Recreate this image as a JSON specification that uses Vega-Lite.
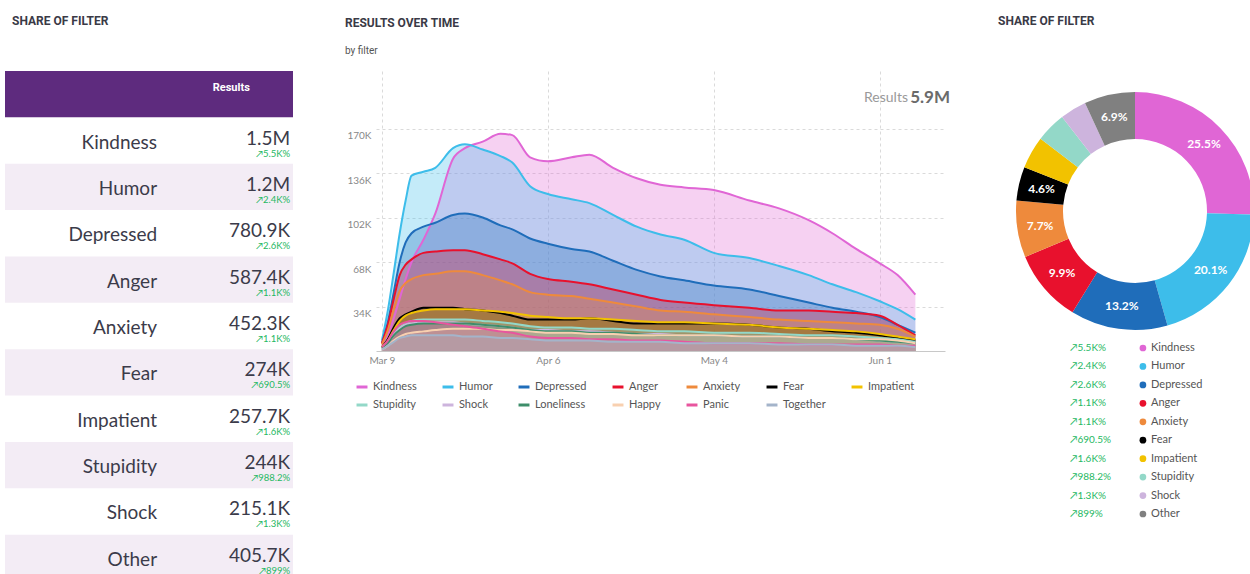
{
  "$schema": "https://vega.github.io/schema/vega-lite/v6.json",
  "background": "white",
  "padding": {"left": 5, "top": 14, "right": 5, "bottom": 0},
  "autosize": {"type": "pad"},
  "bounds": "flush",
  "spacing": 83,
  "config": {
    "view": {"stroke": null},
    "font": "Lato",
    "title": {"font": "Roboto", "fontSize": 12, "fontWeight": "bold", "color": "#3a3a46", "anchor": "start"}
  },
  "resolve": {"scale": {"color": "independent", "x": "independent", "y": "independent"}},
  "datasets": {
    "filters": [
      {"name": "Kindness", "results": "1.5M", "change": "↗5.5K%", "pct": 25.5, "share": "25.5%", "rank": 1},
      {"name": "Humor", "results": "1.2M", "change": "↗2.4K%", "pct": 20.1, "share": "20.1%", "rank": 2},
      {"name": "Depressed", "results": "780.9K", "change": "↗2.6K%", "pct": 13.2, "share": "13.2%", "rank": 3},
      {"name": "Anger", "results": "587.4K", "change": "↗1.1K%", "pct": 9.9, "share": "9.9%", "rank": 4},
      {"name": "Anxiety", "results": "452.3K", "change": "↗1.1K%", "pct": 7.7, "share": "7.7%", "rank": 5},
      {"name": "Fear", "results": "274K", "change": "↗690.5%", "pct": 4.6, "share": "4.6%", "rank": 6},
      {"name": "Impatient", "results": "257.7K", "change": "↗1.6K%", "pct": 4.4, "share": "4.4%", "rank": 7},
      {"name": "Stupidity", "results": "244K", "change": "↗988.2%", "pct": 4.1, "share": "4.1%", "rank": 8},
      {"name": "Shock", "results": "215.1K", "change": "↗1.3K%", "pct": 3.6, "share": "3.6%", "rank": 9},
      {"name": "Other", "results": "405.7K", "change": "↗899%", "pct": 6.9, "share": "6.9%", "rank": 10}
    ],
    "series": [
      {"date": "2020-03-09", "Kindness": 5, "Humor": 8, "Depressed": 6, "Anger": 6, "Anxiety": 5, "Fear": 3, "Impatient": 3, "Stupidity": 2, "Shock": 2, "Loneliness": 2, "Happy": 1, "Panic": 3, "Together": 1},
      {"date": "2020-03-10", "Kindness": 12, "Humor": 31, "Depressed": 22, "Anger": 20, "Anxiety": 16, "Fear": 9, "Impatient": 8, "Stupidity": 7, "Shock": 6, "Loneliness": 6, "Happy": 4, "Panic": 8, "Together": 4},
      {"date": "2020-03-11", "Kindness": 25, "Humor": 60, "Depressed": 45, "Anger": 40, "Anxiety": 32, "Fear": 18, "Impatient": 16, "Stupidity": 13, "Shock": 12, "Loneliness": 12, "Happy": 8, "Panic": 15, "Together": 7},
      {"date": "2020-03-12", "Kindness": 40, "Humor": 90, "Depressed": 68, "Anger": 58, "Anxiety": 46, "Fear": 25, "Impatient": 23, "Stupidity": 18, "Shock": 17, "Loneliness": 16, "Happy": 11, "Panic": 20, "Together": 10},
      {"date": "2020-03-13", "Kindness": 55, "Humor": 115, "Depressed": 83, "Anger": 66, "Anxiety": 52, "Fear": 28, "Impatient": 27, "Stupidity": 21, "Shock": 20, "Loneliness": 19, "Happy": 13, "Panic": 22, "Together": 11},
      {"date": "2020-03-14", "Kindness": 68, "Humor": 134, "Depressed": 90, "Anger": 70, "Anxiety": 55, "Fear": 30, "Impatient": 29, "Stupidity": 23, "Shock": 21, "Loneliness": 20, "Happy": 14, "Panic": 23, "Together": 12},
      {"date": "2020-03-16", "Kindness": 85, "Humor": 137, "Depressed": 95, "Anger": 75, "Anxiety": 58, "Fear": 33, "Impatient": 31, "Stupidity": 24, "Shock": 22, "Loneliness": 21, "Happy": 15, "Panic": 23, "Together": 12},
      {"date": "2020-03-18", "Kindness": 105, "Humor": 140, "Depressed": 98, "Anger": 76, "Anxiety": 59, "Fear": 33, "Impatient": 32, "Stupidity": 24, "Shock": 22, "Loneliness": 21, "Happy": 16, "Panic": 22, "Together": 12},
      {"date": "2020-03-21", "Kindness": 147, "Humor": 155, "Depressed": 104, "Anger": 77, "Anxiety": 61, "Fear": 33, "Impatient": 32, "Stupidity": 24, "Shock": 22, "Loneliness": 21, "Happy": 17, "Panic": 20, "Together": 12},
      {"date": "2020-03-23", "Kindness": 155, "Humor": 158, "Depressed": 105, "Anger": 77, "Anxiety": 61, "Fear": 32, "Impatient": 32, "Stupidity": 24, "Shock": 21, "Loneliness": 21, "Happy": 17, "Panic": 19, "Together": 11},
      {"date": "2020-03-26", "Kindness": 160, "Humor": 154, "Depressed": 102, "Anger": 74, "Anxiety": 58, "Fear": 31, "Impatient": 31, "Stupidity": 23, "Shock": 20, "Loneliness": 20, "Happy": 17, "Panic": 17, "Together": 11},
      {"date": "2020-03-29", "Kindness": 166, "Humor": 149, "Depressed": 96, "Anger": 70, "Anxiety": 54, "Fear": 29, "Impatient": 30, "Stupidity": 22, "Shock": 19, "Loneliness": 19, "Happy": 16, "Panic": 15, "Together": 10},
      {"date": "2020-03-31", "Kindness": 165, "Humor": 144, "Depressed": 93, "Anger": 67, "Anxiety": 51, "Fear": 27, "Impatient": 29, "Stupidity": 21, "Shock": 18, "Loneliness": 18, "Happy": 16, "Panic": 14, "Together": 10},
      {"date": "2020-04-03", "Kindness": 148, "Humor": 126, "Depressed": 86, "Anger": 59, "Anxiety": 45, "Fear": 24, "Impatient": 27, "Stupidity": 19, "Shock": 16, "Loneliness": 16, "Happy": 15, "Panic": 11, "Together": 9},
      {"date": "2020-04-06", "Kindness": 145, "Humor": 120, "Depressed": 82, "Anger": 55, "Anxiety": 43, "Fear": 24, "Impatient": 26, "Stupidity": 18, "Shock": 16, "Loneliness": 15, "Happy": 14, "Panic": 10, "Together": 8},
      {"date": "2020-04-10", "Kindness": 148, "Humor": 116, "Depressed": 78, "Anger": 53, "Anxiety": 42, "Fear": 24, "Impatient": 25, "Stupidity": 18, "Shock": 15, "Loneliness": 15, "Happy": 14, "Panic": 10, "Together": 8},
      {"date": "2020-04-13", "Kindness": 150, "Humor": 113, "Depressed": 76, "Anger": 51, "Anxiety": 40, "Fear": 25, "Impatient": 25, "Stupidity": 17, "Shock": 15, "Loneliness": 14, "Happy": 13, "Panic": 9, "Together": 8},
      {"date": "2020-04-17", "Kindness": 140, "Humor": 104, "Depressed": 69, "Anger": 47, "Anxiety": 37, "Fear": 23, "Impatient": 24, "Stupidity": 17, "Shock": 14, "Loneliness": 14, "Happy": 13, "Panic": 9, "Together": 7},
      {"date": "2020-04-21", "Kindness": 132, "Humor": 95, "Depressed": 62, "Anger": 43, "Anxiety": 34, "Fear": 21, "Impatient": 23, "Stupidity": 16, "Shock": 13, "Loneliness": 13, "Happy": 12, "Panic": 8, "Together": 7},
      {"date": "2020-04-25", "Kindness": 127, "Humor": 89, "Depressed": 57, "Anger": 39, "Anxiety": 31, "Fear": 21, "Impatient": 22, "Stupidity": 15, "Shock": 13, "Loneliness": 12, "Happy": 12, "Panic": 8, "Together": 7},
      {"date": "2020-04-29", "Kindness": 125, "Humor": 85, "Depressed": 54, "Anger": 37, "Anxiety": 30, "Fear": 21, "Impatient": 22, "Stupidity": 15, "Shock": 12, "Loneliness": 12, "Happy": 12, "Panic": 7, "Together": 6},
      {"date": "2020-05-04", "Kindness": 123, "Humor": 75, "Depressed": 50, "Anger": 35, "Anxiety": 28, "Fear": 21, "Impatient": 21, "Stupidity": 14, "Shock": 12, "Loneliness": 12, "Happy": 12, "Panic": 6, "Together": 6},
      {"date": "2020-05-10", "Kindness": 115, "Humor": 71, "Depressed": 47, "Anger": 33, "Anxiety": 26, "Fear": 20, "Impatient": 20, "Stupidity": 14, "Shock": 11, "Loneliness": 11, "Happy": 11, "Panic": 6, "Together": 6},
      {"date": "2020-05-15", "Kindness": 109, "Humor": 65, "Depressed": 42, "Anger": 31, "Anxiety": 24, "Fear": 18, "Impatient": 18, "Stupidity": 13, "Shock": 11, "Loneliness": 11, "Happy": 11, "Panic": 6, "Together": 5},
      {"date": "2020-05-20", "Kindness": 100, "Humor": 58, "Depressed": 37, "Anger": 31, "Anxiety": 23, "Fear": 17, "Impatient": 17, "Stupidity": 12, "Shock": 10, "Loneliness": 10, "Happy": 10, "Panic": 5, "Together": 5},
      {"date": "2020-05-24", "Kindness": 90, "Humor": 51, "Depressed": 33, "Anger": 30, "Anxiety": 22, "Fear": 15, "Impatient": 16, "Stupidity": 12, "Shock": 10, "Loneliness": 10, "Happy": 10, "Panic": 5, "Together": 5},
      {"date": "2020-05-28", "Kindness": 78, "Humor": 45, "Depressed": 30, "Anger": 29, "Anxiety": 21, "Fear": 14, "Impatient": 15, "Stupidity": 11, "Shock": 9, "Loneliness": 9, "Happy": 9, "Panic": 5, "Together": 4},
      {"date": "2020-06-01", "Kindness": 67, "Humor": 38, "Depressed": 26, "Anger": 27, "Anxiety": 20, "Fear": 12, "Impatient": 13, "Stupidity": 10, "Shock": 8, "Loneliness": 8, "Happy": 9, "Panic": 5, "Together": 4},
      {"date": "2020-06-04", "Kindness": 58, "Humor": 32, "Depressed": 20, "Anger": 20, "Anxiety": 17, "Fear": 10, "Impatient": 11, "Stupidity": 9, "Shock": 7, "Loneliness": 7, "Happy": 8, "Panic": 4, "Together": 4},
      {"date": "2020-06-07", "Kindness": 43, "Humor": 24, "Depressed": 14, "Anger": 12, "Anxiety": 11, "Fear": 8, "Impatient": 9, "Stupidity": 7, "Shock": 6, "Loneliness": 6, "Happy": 6, "Panic": 4, "Together": 3}
    ]
  },
  "hconcat": [
    {
      "width": 288,
      "height": 510,
      "title": {"text": "SHARE OF FILTER", "frame": "group", "dx": 7, "offset": 43},
      "data": {"name": "filters"},
      "encoding": {
        "y": {
          "field": "name",
          "type": "nominal",
          "scale": {
            "domain": ["header", "Kindness", "Humor", "Depressed", "Anger", "Anxiety", "Fear", "Impatient", "Stupidity", "Shock", "Other"],
            "paddingInner": 0,
            "paddingOuter": 0
          },
          "axis": null
        }
      },
      "layer": [
        {
          "data": {"values": [{"name": "header", "label": "Results"}]},
          "mark": {"type": "rect", "color": "#5E2B7E"},
          "encoding": {
            "x": {"datum": 0, "type": "quantitative", "scale": {"domain": [0, 100]}, "axis": null},
            "x2": {"datum": 100}
          }
        },
        {
          "transform": [{"filter": {"field": "name", "oneOf": ["Humor", "Anger", "Fear", "Stupidity", "Other"]}}],
          "mark": {"type": "rect", "color": "#F3ECF5"},
          "encoding": {
            "x": {"datum": 0, "type": "quantitative"},
            "x2": {"datum": 100}
          }
        },
        {
          "data": {"values": [{"name": "header", "label": "Results"}]},
          "mark": {"type": "text", "align": "right", "baseline": "middle", "dy": -6, "fontSize": 11, "fontWeight": "bold", "color": "white", "font": "Roboto"},
          "encoding": {
            "x": {"datum": 85, "type": "quantitative"},
            "text": {"field": "label"}
          }
        },
        {
          "mark": {"type": "text", "align": "right", "baseline": "middle", "dy": 2, "fontSize": 19, "color": "#3b3b4a"},
          "encoding": {
            "x": {"datum": 52.8, "type": "quantitative"},
            "text": {"field": "name"}
          }
        },
        {
          "mark": {"type": "text", "align": "right", "baseline": "alphabetic", "dy": 4, "fontSize": 19, "color": "#3b3b4a"},
          "encoding": {
            "x": {"datum": 99, "type": "quantitative"},
            "text": {"field": "results"}
          }
        },
        {
          "mark": {"type": "text", "align": "right", "baseline": "alphabetic", "dy": 16, "fontSize": 9.5, "color": "#25B862"},
          "encoding": {
            "x": {"datum": 99, "type": "quantitative"},
            "text": {"field": "change"}
          }
        }
      ]
    },
    {
      "width": 569,
      "height": 280,
      "title": {
        "text": "RESULTS OVER TIME",
        "subtitle": "by filter",
        "frame": "group",
        "dx": -31,
        "offset": 14,
        "subtitleFont": "Roboto",
        "subtitleFontSize": 10,
        "subtitleColor": "#555555",
        "subtitlePadding": 16
      },
      "layer": [
        {
          "data": {"name": "series"},
          "transform": [
            {"fold": ["Kindness", "Humor", "Depressed", "Anger", "Anxiety", "Fear", "Impatient", "Stupidity", "Shock", "Loneliness", "Happy", "Panic", "Together"], "as": ["filter", "value"]}
          ],
          "mark": {"type": "area", "interpolate": "monotone", "fillOpacity": 0.3, "line": {"strokeWidth": 2}},
          "encoding": {
            "x": {
              "field": "date",
              "type": "temporal",
              "scale": {"type": "utc", "domain": [{"year": 2020, "month": 3, "date": 8, "utc": true}, {"year": 2020, "month": 6, "date": 12, "utc": true}]},
              "axis": {
                "values": [
                  {"year": 2020, "month": 3, "date": 9, "utc": true},
                  {"year": 2020, "month": 4, "date": 6, "utc": true},
                  {"year": 2020, "month": 5, "date": 4, "utc": true},
                  {"year": 2020, "month": 6, "date": 1, "utc": true}
                ],
                "format": "%b %-d",
                "title": null,
                "grid": true,
                "gridDash": [3, 3],
                "gridColor": "#dadada",
                "ticks": false,
                "domainColor": "#c8c8c8",
                "labelColor": "#888888",
                "labelFontSize": 10,
                "labelPadding": 4
              }
            },
            "y": {
              "field": "value",
              "type": "quantitative",
              "stack": null,
              "scale": {"domain": [0, 214], "nice": false},
              "axis": {
                "values": [34, 68, 102, 136, 170],
                "labelExpr": "datum.value + 'K'",
                "title": null,
                "domain": false,
                "ticks": false,
                "grid": true,
                "gridDash": [3, 3],
                "gridColor": "#dadada",
                "labelColor": "#888888",
                "labelFontSize": 10,
                "labelBaseline": "top",
                "labelOffset": 2,
                "labelPadding": 5
              }
            },
            "color": {
              "field": "filter",
              "type": "nominal",
              "scale": {
                "domain": ["Kindness", "Humor", "Depressed", "Anger", "Anxiety", "Fear", "Impatient", "Stupidity", "Shock", "Loneliness", "Happy", "Panic", "Together"],
                "range": ["#E066D5", "#3DBDEA", "#1F6DBA", "#E8112D", "#EE8A3C", "#000000", "#F2C200", "#93D8C8", "#CDB4DD", "#3E8E6A", "#F8D0B0", "#E8559E", "#A4B4CA"]
              },
              "legend": {
                "orient": "none",
                "legendX": -21,
                "legendY": 309,
                "direction": "horizontal",
                "columns": 7,
                "title": null,
                "symbolType": "stroke",
                "symbolStrokeWidth": 3,
                "symbolSize": 120,
                "labelFontSize": 11,
                "labelColor": "#555555",
                "columnPadding": 19,
                "rowPadding": 5
              }
            }
          }
        },
        {
          "data": {"values": [{"label": "Results", "total": "5.9M"}]},
          "mark": {"type": "text", "align": "right", "baseline": "middle", "dx": 5, "fontSize": 17, "fontWeight": "bold", "color": "#6b6b6b"},
          "encoding": {
            "x": {"datum": {"year": 2020, "month": 6, "date": 12, "utc": true}, "type": "temporal"},
            "y": {"datum": 193, "type": "quantitative"},
            "text": {"field": "total"}
          }
        },
        {
          "data": {"values": [{"label": "Results", "total": "5.9M"}]},
          "mark": {"type": "text", "align": "right", "baseline": "middle", "dx": -37, "fontSize": 14, "color": "#9a9a9a"},
          "encoding": {
            "x": {"datum": {"year": 2020, "month": 6, "date": 12, "utc": true}, "type": "temporal"},
            "y": {"datum": 193, "type": "quantitative"},
            "text": {"field": "label"}
          }
        }
      ]
    },
    {
      "width": 214,
      "height": 280,
      "title": {"text": "SHARE OF FILTER", "frame": "group", "dx": -30, "offset": 43},
      "data": {"name": "filters"},
      "layer": [
        {
          "mark": {"type": "arc", "innerRadius": 72, "outerRadius": 119},
          "encoding": {
            "theta": {"field": "pct", "type": "quantitative", "stack": true},
            "order": {"field": "rank", "type": "quantitative"},
            "color": {
              "field": "name",
              "type": "nominal",
              "scale": {
                "domain": ["Kindness", "Humor", "Depressed", "Anger", "Anxiety", "Fear", "Impatient", "Stupidity", "Shock", "Other"],
                "range": ["#E066D5", "#3DBDEA", "#1F6DBA", "#E8112D", "#EE8A3C", "#000000", "#F2C200", "#93D8C8", "#CDB4DD", "#808080"]
              },
              "legend": null
            }
          }
        },
        {
          "mark": {"type": "text", "radius": 96, "fontSize": 12, "fontWeight": "bold", "color": "white", "baseline": "middle", "align": "center"},
          "encoding": {
            "theta": {"field": "pct", "type": "quantitative", "stack": true},
            "order": {"field": "rank", "type": "quantitative"},
            "text": {"condition": {"test": "datum.pct >= 4.5", "field": "share"}, "value": ""}
          }
        },
        {
          "mark": {"type": "text", "align": "left", "baseline": "middle", "fontSize": 10, "color": "#25B862"},
          "encoding": {
            "x": {"datum": 19.6, "type": "quantitative", "scale": {"domain": [0, 100]}, "axis": null},
            "y": {
              "field": "name",
              "type": "nominal",
              "scale": {"domain": ["Kindness", "Humor", "Depressed", "Anger", "Anxiety", "Fear", "Impatient", "Stupidity", "Shock", "Other"], "range": [277, 443], "padding": 0},
              "axis": null
            },
            "text": {"field": "change"}
          }
        },
        {
          "mark": {"type": "point", "filled": true, "size": 45, "opacity": 1},
          "encoding": {
            "x": {"datum": 53.7, "type": "quantitative"},
            "y": {"field": "name", "type": "nominal"},
            "color": {"field": "name", "type": "nominal"}
          }
        },
        {
          "mark": {"type": "text", "align": "left", "baseline": "middle", "fontSize": 11, "color": "#555555"},
          "encoding": {
            "x": {"datum": 57.5, "type": "quantitative"},
            "y": {"field": "name", "type": "nominal"},
            "text": {"field": "name"}
          }
        }
      ]
    }
  ]
}
